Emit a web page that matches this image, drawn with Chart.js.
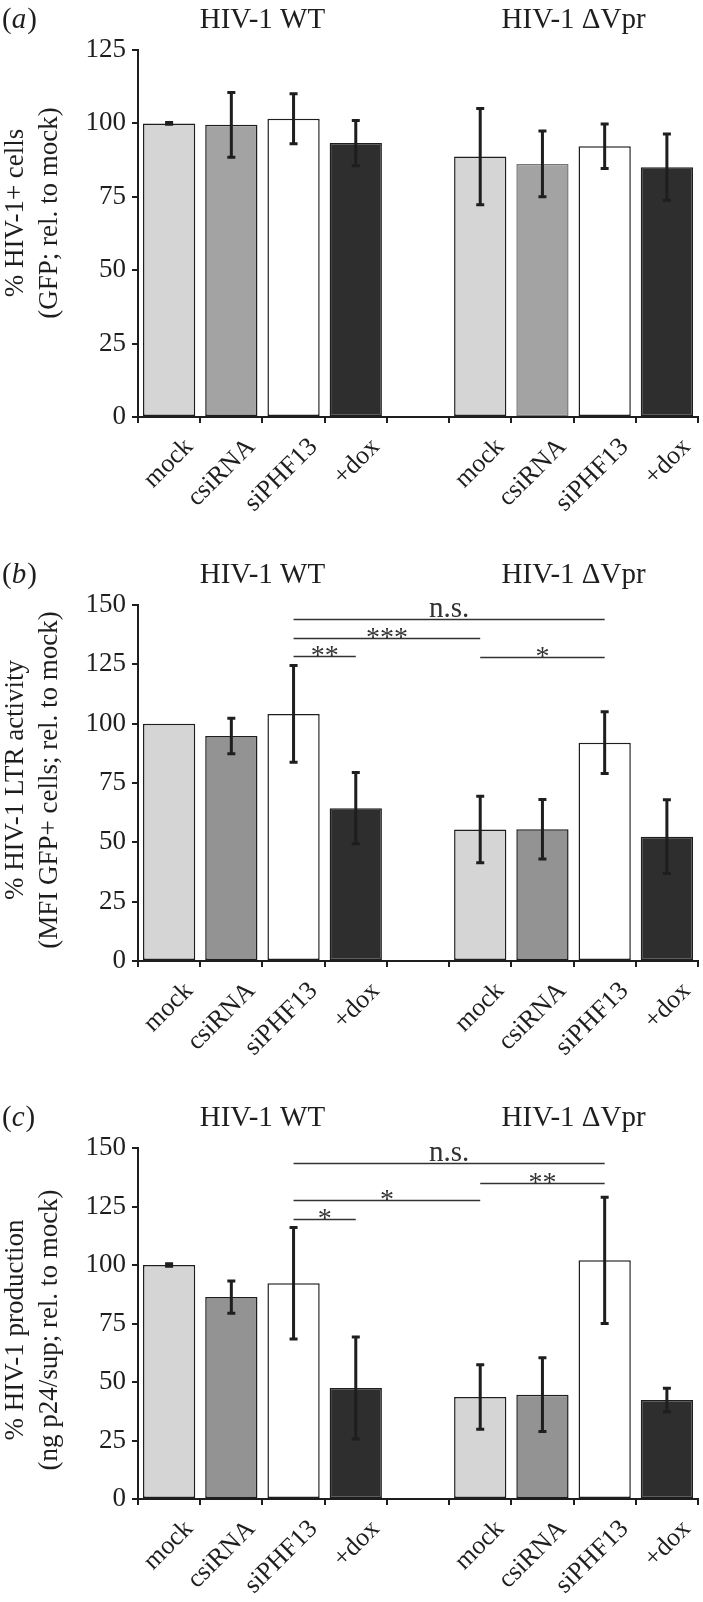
<!DOCTYPE html>
<html>
<head>
<meta charset="utf-8">
<script src="https://cdn.jsdelivr.net/npm/chart.js@4.4.1/dist/chart.umd.min.js"></script>
<style>
  html, body { margin: 0; padding: 0; background: #fff; }
  #wrap { position: relative; width: 703px; height: 1602px; }
  canvas { position: absolute; left: 0; }
</style>
</head>
<body>
<div id="wrap">
  <canvas id="panelA" width="703" height="530" style="top:0"></canvas>
  <canvas id="panelB" width="703" height="530" style="top:530px"></canvas>
  <canvas id="panelC" width="703" height="542" style="top:1060px"></canvas>
</div>
<script>
// x categories (empty slot separates the two virus groups)
const categories = ['mock', 'csiRNA', 'siPHF13', '+dox', '', 'mock', 'csiRNA', 'siPHF13', '+dox'];
const groups = ['HIV-1 WT', 'HIV-1 \u0394Vpr'];

// (a) % HIV-1+ cells
const valuesA = [100, 99.5, 101.6, 93.3, null, 88.7, 86.2, 92.2, 85.1];
const errorsA = [0.3, 11, 8.5, 7.7, null, 16.4, 11.2, 7.6, 11.3];

// (b) LTR activity
const valuesB = [100, 94.8, 104.1, 64.4, null, 55.4, 55.5, 92, 52.4];
const errorsB = [0, 7.5, 20.4, 15, null, 14, 12.5, 13, 15.5];
const sigB = [[2, 7, 143.9, 'n.s.'], [2, 5, 136.3, '***'], [2, 3, 128.4, '**'], [5, 7, 128.1, '*']];

// (c) virus production
const valuesC = [100, 86.3, 92.2, 47.4, null, 43.6, 44.6, 102, 42.3];
const errorsC = [0.5, 6.9, 23.8, 21.8, null, 13.8, 15.8, 27, 5];
const sigC = [[2, 7, 143.5, 'n.s.'], [5, 7, 135.2, '**'], [2, 5, 127.8, '*'], [2, 3, 119.7, '*']];

const yTicksA = [0, 25, 50, 75, 100, 125];
const yTicksBC = [0, 25, 50, 75, 100, 125, 150];

const FONT = '"Liberation Serif", "DejaVu Serif", serif';
const INK = '#1e1e1e';

// draws error bars, significance brackets, category labels, headings and y title
const annotate = {
    id: 'annotate',
    afterDatasetsDraw(chart, args, opts) {
        const ctx = chart.ctx;
        const xs = chart.scales.x, ys = chart.scales.y;
        ctx.save();

        // error bars (zero spread -> nothing drawn)
        ctx.strokeStyle = INK;
        ctx.lineWidth = 3;
        opts.errors.forEach((e, i) => {
            const v = opts.values[i];
            if (v == null || !e) return;
            const px = xs.getPixelForValue(i);
            const top = ys.getPixelForValue(v + e);
            const bot = ys.getPixelForValue(v - e);
            ctx.beginPath();
            ctx.moveTo(px, top); ctx.lineTo(px, bot);
            ctx.moveTo(px - 4, top); ctx.lineTo(px + 4, top);
            ctx.moveTo(px - 4, bot); ctx.lineTo(px + 4, bot);
            ctx.stroke();
        });

        // significance brackets
        ctx.lineWidth = 1.5;
        ctx.strokeStyle = '#333';
        ctx.fillStyle = '#333';
        ctx.textAlign = 'center';
        ctx.textBaseline = 'alphabetic';
        (opts.sig || []).forEach(([a, b, level, label]) => {
            const x1 = xs.getPixelForValue(a), x2 = xs.getPixelForValue(b);
            const py = Math.round(ys.getPixelForValue(level)) + 0.5;
            ctx.beginPath();
            ctx.moveTo(x1, py); ctx.lineTo(x2, py);
            ctx.stroke();
            const star = label.indexOf('*') >= 0;
            ctx.font = (star ? '28px ' : '29px ') + FONT;
            ctx.fillText(label, (x1 + x2) / 2, star ? py + 7 : py - 3);
        });

        // rotated category labels under the axis
        ctx.fillStyle = INK;
        ctx.font = '26px ' + FONT;
        ctx.textAlign = 'right';
        ctx.textBaseline = 'middle';
        const axisY = chart.chartArea.bottom;
        categories.forEach((lab, i) => {
            if (!lab) return;
            ctx.save();
            ctx.translate(xs.getPixelForValue(i) + 20, axisY + 26);
            ctx.rotate(-Math.PI / 4);
            ctx.fillText(lab, 0, 0);
            ctx.restore();
        });

        // group headings
        const base = chart.chartArea.top - 22;
        ctx.textAlign = 'center';
        ctx.textBaseline = 'alphabetic';
        ctx.font = '29px ' + FONT;
        const g1 = (xs.getPixelForValue(0) + xs.getPixelForValue(3)) / 2;
        const g2 = (xs.getPixelForValue(5) + xs.getPixelForValue(8)) / 2;
        ctx.fillText(groups[0], g1, base);
        ctx.fillText(groups[1], g2, base);

        // panel letter: upright parens, italic letter
        ctx.textAlign = 'left';
        let px = 2;
        ctx.fillText('(', px, base); px += ctx.measureText('(').width;
        ctx.font = 'italic 29px ' + FONT;
        ctx.fillText(opts.letter, px, base); px += ctx.measureText(opts.letter).width + 1;
        ctx.font = '29px ' + FONT;
        ctx.fillText(')', px, base);

        // two-line y axis title
        ctx.font = '27px ' + FONT;
        ctx.textAlign = 'center';
        ctx.textBaseline = 'middle';
        opts.title.forEach((line, k) => {
            ctx.save();
            ctx.translate(k === 0 ? 16 : 50, opts.titleY);
            ctx.rotate(-Math.PI / 2);
            ctx.fillText(line, 0, 0);
            ctx.restore();
        });
        ctx.restore();
    }
};

function makePanel(id, p) {
    const canvas = document.getElementById(id);
    const H = canvas.height;
    const light = '#d5d5d5', dark = '#2e2e2e';
    const fills = [light, p.mid, '#ffffff', dark, light, light, p.mid, '#ffffff', dark];
    const borders = categories.map(() => INK);
    if (p.midBorder) borders[6] = p.midBorder;

    return new Chart(canvas.getContext('2d'), {
        type: 'bar',
        data: {
            labels: categories,
            datasets: [{
                data: p.values,
                backgroundColor: fills,
                borderColor: borders,
                borderWidth: 1.5,
                borderSkipped: false,
                barPercentage: 0.84,
                categoryPercentage: 1
            }]
        },
        options: {
            responsive: false,
            animation: false,
            devicePixelRatio: 1,
            layout: { padding: { top: p.top, right: 5, left: 0, bottom: 0 } },
            plugins: {
                legend: { display: false },
                tooltip: { enabled: false },
                annotate: {
                    values: p.values,
                    errors: p.errors,
                    sig: p.sig,
                    letter: p.letter,
                    title: p.title,
                    titleY: p.titleY
                }
            },
            scales: {
                x: {
                    grid: { drawOnChartArea: false, drawTicks: true, tickLength: 6, lineWidth: 2, color: INK },
                    border: { display: true, color: INK, width: 2 },
                    ticks: { display: false },
                    afterFit(scale) {
                        scale.height = H - p.bottom;
                        scale.paddingLeft = 0;
                        scale.paddingRight = 0;
                    }
                },
                y: {
                    min: 0,
                    max: p.ticks[p.ticks.length - 1],
                    afterBuildTicks(scale) {
                        scale.ticks = p.ticks.map(v => ({ value: v }));
                    },
                    grid: { drawOnChartArea: false, drawTicks: true, tickLength: 6, lineWidth: 2, color: INK },
                    border: { display: true, color: INK, width: 2 },
                    ticks: {
                        color: INK,
                        font: { family: FONT, size: 27 },
                        padding: 6
                    },
                    afterFit(scale) {
                        scale.width = 138;
                    }
                }
            }
        },
        plugins: [annotate]
    });
}

makePanel('panelA', {
    values: valuesA, errors: errorsA, sig: [], letter: 'a',
    ticks: yTicksA, top: 50, bottom: 417, mid: '#a3a3a3', midBorder: '#777',
    title: ['% HIV-1+ cells', '(GFP; rel. to mock)'], titleY: 213
});
makePanel('panelB', {
    values: valuesB, errors: errorsB, sig: sigB, letter: 'b',
    ticks: yTicksBC, top: 75, bottom: 431, mid: '#939393',
    title: ['% HIV-1 LTR activity', '(MFI GFP+ cells; rel. to mock)'], titleY: 250
});
makePanel('panelC', {
    values: valuesC, errors: errorsC, sig: sigC, letter: 'c',
    ticks: yTicksBC, top: 88, bottom: 439, mid: '#939393',
    title: ['% HIV-1 production', '(ng p24/sup; rel. to mock)'], titleY: 270
});
</script>
</body>
</html>
